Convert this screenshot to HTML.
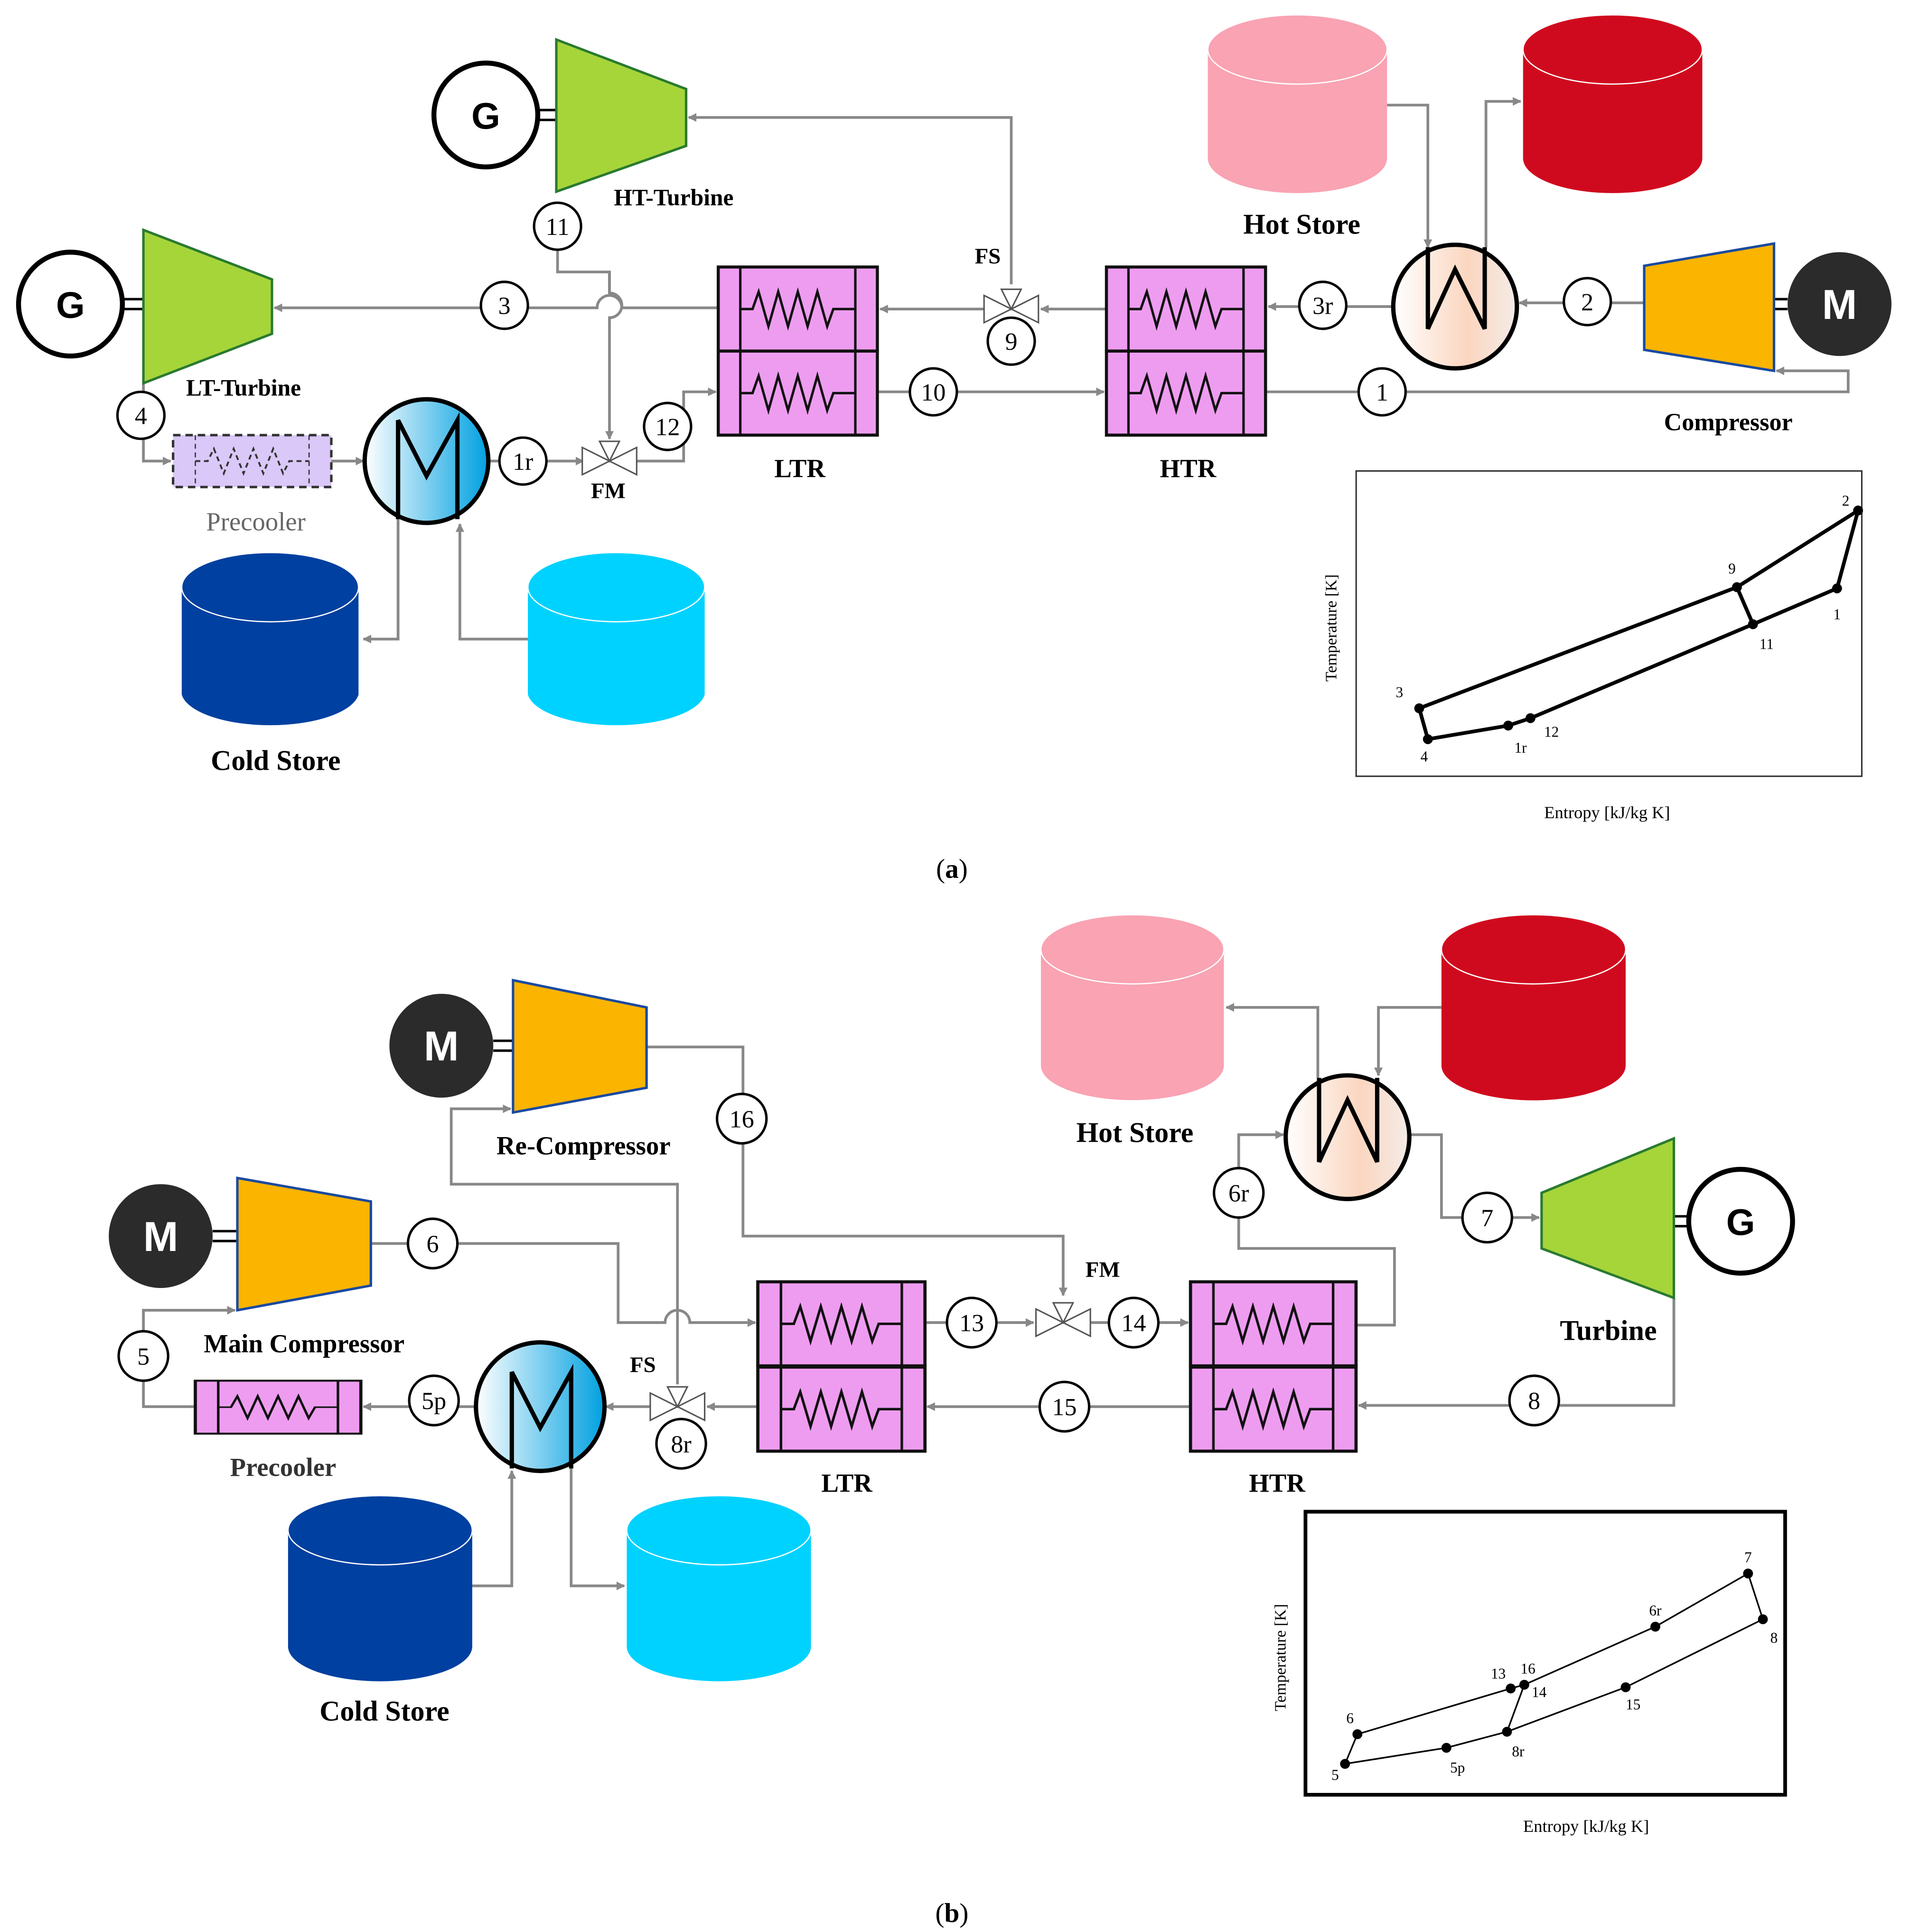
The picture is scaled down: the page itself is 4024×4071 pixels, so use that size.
<!DOCTYPE html>
<html><head><meta charset="utf-8"><style>
html,body{margin:0;padding:0;background:#fff}
svg{display:block}
text{font-family:"Liberation Serif",serif}
.n{font-family:"Liberation Sans",sans-serif;font-size:20px;text-anchor:middle}
.l{font-weight:bold;font-size:21px;text-anchor:middle}
.c{font-size:12px;text-anchor:middle}
</style></head><body>
<svg width="4024" height="4071" viewBox="0 0 1545 1563" xmlns="http://www.w3.org/2000/svg">
<defs>
<marker id="ar" viewBox="0 0 10 10" refX="9" refY="5" markerWidth="7" markerHeight="7" orient="auto-start-reverse" markerUnits="userSpaceOnUse">
<path d="M0,0 L10,5 L0,10 z" fill="#888"/></marker>
<linearGradient id="hg" x1="0" x2="1"><stop offset="0" stop-color="#fff"/><stop offset="0.6" stop-color="#fbd6c0"/><stop offset="1" stop-color="#f4ece8"/></linearGradient>
<linearGradient id="cg" x1="0" x2="1"><stop offset="0" stop-color="#fff"/><stop offset="1" stop-color="#00a0e0"/></linearGradient>
<g id="hx"><rect x="0" y="0" width="130" height="68" fill="#ee9cf0" stroke="#111" stroke-width="2.5"/>
<line x1="18" y1="0" x2="18" y2="68" stroke="#111" stroke-width="2"/><line x1="112" y1="0" x2="112" y2="68" stroke="#111" stroke-width="2"/>
<polyline points="18,34 28,34 33,20 41,48 49,20 57,48 65,20 73,48 81,20 89,48 94,34 112,34" fill="none" stroke="#111" stroke-width="2"/></g>
<g id="valve"><path d="M-22,-11 L22,11 L22,-11 L-22,11 Z" fill="#fff" stroke="#555" stroke-width="1.2"/><path d="M0,0 L-8,-16 L8,-16 Z" fill="#fff" stroke="#555" stroke-width="1.2"/></g>
</defs>
<g fill="none" stroke="#888" stroke-width="2.2">
<polyline points="818,230 818,95 557,95" marker-end="url(#ar)"/>
<polyline points="451,202 451,220 493,220 493,237" />
<path d="M493,220 L493,237 A10,10 0 0 1 493,257 L493,355" marker-end="url(#ar)"/>
<path d="M581,249 L503,249 A10,10 0 0 0 483,249 L427,249 M389,249 L222,249" marker-end="url(#ar)"/>
<line x1="797" y1="250" x2="712" y2="250" marker-end="url(#ar)"/>
<line x1="895" y1="250" x2="842" y2="250" marker-end="url(#ar)"/>
<line x1="1127" y1="248" x2="1026" y2="248" marker-end="url(#ar)"/>
<line x1="1330" y1="245" x2="1229" y2="245" marker-end="url(#ar)"/>
<polyline points="1024,317 1495,317 1495,300 1437,300" marker-end="url(#ar)"/>
<line x1="710" y1="317" x2="893" y2="317" marker-end="url(#ar)"/>
<polyline points="515,373 553,373 553,317 579,317" marker-end="url(#ar)"/>
<line x1="395" y1="373" x2="472" y2="373" marker-end="url(#ar)"/>
<polyline points="116,310 116,373 138,373" marker-end="url(#ar)"/>
<line x1="268" y1="373" x2="294" y2="373" marker-end="url(#ar)"/>
<polyline points="1122,85 1155,85 1155,200" marker-end="url(#ar)"/>
<polyline points="1202,200 1202,82 1230,82" marker-end="url(#ar)"/>
<polyline points="322,420 322,517 294,517" marker-end="url(#ar)"/>
<polyline points="427,517 372,517 372,424" marker-end="url(#ar)"/>
<polyline points="523,847 601,847 601,1000 860,1000 860,1048" marker-end="url(#ar)"/>
<polyline points="548,1120 548,958 365,958 365,897 413,897" marker-end="url(#ar)"/>
<path d="M300,1006 L500,1006 L500,1070 L538,1070 A10,10 0 0 1 558,1070 L611,1070" marker-end="url(#ar)"/>
<line x1="748" y1="1070" x2="836" y2="1070" marker-end="url(#ar)"/>
<line x1="882" y1="1070" x2="961" y2="1070" marker-end="url(#ar)"/>
<polyline points="1097,1072 1128,1072 1128,1010 1002,1010 1002,918 1038,918" marker-end="url(#ar)"/>
<polyline points="1140,918 1166,918 1166,985 1245,985" marker-end="url(#ar)"/>
<polyline points="1354,1050 1354,1137 1099,1137" marker-end="url(#ar)"/>
<line x1="963" y1="1138" x2="750" y2="1138" marker-end="url(#ar)"/>
<line x1="613" y1="1138" x2="572" y2="1138" marker-end="url(#ar)"/>
<line x1="526" y1="1138" x2="490" y2="1138" marker-end="url(#ar)"/>
<line x1="385" y1="1138" x2="294" y2="1138" marker-end="url(#ar)"/>
<polyline points="158,1138 116,1138 116,1060 190,1060" marker-end="url(#ar)"/>
<polyline points="1066,872 1066,815 992,815" marker-end="url(#ar)"/>
<polyline points="1166,815 1115,815 1115,870" marker-end="url(#ar)"/>
<polyline points="382,1283 414,1283 414,1190" marker-end="url(#ar)"/>
<polyline points="462,1188 462,1283 505,1283" marker-end="url(#ar)"/>
</g>

<g stroke="#000" stroke-width="4" fill="#fff"><circle cx="393" cy="93" r="42"/><circle cx="57" cy="246" r="42"/><circle cx="1408" cy="988" r="42"/></g>
<g font-family="Liberation Sans" font-weight="bold" font-size="30" text-anchor="middle">
<text x="393" y="104" style="font-family:'Liberation Sans',sans-serif">G</text><text x="57" y="257" style="font-family:'Liberation Sans',sans-serif">G</text><text x="1408" y="999" style="font-family:'Liberation Sans',sans-serif">G</text></g>
<g stroke="#000" stroke-width="2"><line x1="435" y1="89" x2="450" y2="89"/><line x1="435" y1="97" x2="450" y2="97"/>
<line x1="99" y1="242" x2="116" y2="242"/><line x1="99" y1="250" x2="116" y2="250"/>
<line x1="1354" y1="984" x2="1366" y2="984"/><line x1="1354" y1="992" x2="1366" y2="992"/>
<line x1="1435" y1="242" x2="1446" y2="242"/><line x1="1435" y1="250" x2="1446" y2="250"/>
<line x1="399" y1="842" x2="415" y2="842"/><line x1="399" y1="850" x2="415" y2="850"/>
<line x1="172" y1="996" x2="192" y2="996"/><line x1="172" y1="1004" x2="192" y2="1004"/></g>
<g fill="#a6d53a" stroke="#2a7a30" stroke-width="2">
<polygon points="450,32 555,72 555,118 450,155"/>
<polygon points="116,186 220,226 220,270 116,310"/>
<polygon points="1247,965 1354,921 1354,1050 1247,1010"/></g>
<g fill="#fbb400" stroke="#1a4aa0" stroke-width="2">
<polygon points="1330,215 1435,197 1435,300 1330,283"/>
<polygon points="415,793 523,815 523,880 415,900"/>
<polygon points="192,953 300,972 300,1040 192,1060"/></g>
<g fill="#2b2b2b"><circle cx="1488" cy="246" r="42"/><circle cx="357" cy="846" r="42"/><circle cx="130" cy="1000" r="42"/></g>
<g font-weight="bold" font-size="34" text-anchor="middle" fill="#fff">
<text x="1488" y="258" style="font-family:'Liberation Sans',sans-serif">M</text><text x="357" y="858" style="font-family:'Liberation Sans',sans-serif">M</text><text x="130" y="1012" style="font-family:'Liberation Sans',sans-serif">M</text></g>

<g stroke="#fff" stroke-width="1">
<path d="M977,40 L977,128 A72,28 0 0 0 1122,128 L1122,40 Z" fill="#f9a3b3" stroke="none"/><ellipse cx="1049.5" cy="40" rx="72.5" ry="28" fill="#f9a3b3"/>
<path d="M1232,40 L1232,128 A72,28 0 0 0 1377,128 L1377,40 Z" fill="#d00a1e" stroke="none"/><ellipse cx="1304.5" cy="40" rx="72.5" ry="28" fill="#d00a1e"/>
<path d="M147,475 L147,562 A72,28 0 0 0 290,562 L290,475 Z" fill="#0040a0" stroke="none"/><ellipse cx="218.5" cy="475" rx="71.5" ry="28" fill="#0040a0"/>
<path d="M427,475 L427,562 A72,28 0 0 0 570,562 L570,475 Z" fill="#00d2ff" stroke="none"/><ellipse cx="498.5" cy="475" rx="71.5" ry="28" fill="#00d2ff"/>
<path d="M842,768 L842,862 A74,28 0 0 0 990,862 L990,768 Z" fill="#f9a3b3" stroke="none"/><ellipse cx="916" cy="768" rx="74" ry="28" fill="#f9a3b3"/>
<path d="M1166,768 L1166,862 A74,28 0 0 0 1315,862 L1315,768 Z" fill="#d00a1e" stroke="none"/><ellipse cx="1240.5" cy="768" rx="74.5" ry="28" fill="#d00a1e"/>
<path d="M233,1238 L233,1332 A74,28 0 0 0 382,1332 L382,1238 Z" fill="#0040a0" stroke="none"/><ellipse cx="307.5" cy="1238" rx="74.5" ry="28" fill="#0040a0"/>
<path d="M507,1238 L507,1332 A74,28 0 0 0 656,1332 L656,1238 Z" fill="#00d2ff" stroke="none"/><ellipse cx="581.5" cy="1238" rx="74.5" ry="28" fill="#00d2ff"/>
</g>

<use href="#hx" transform="translate(581,216) scale(0.99,1)"/><use href="#hx" transform="translate(581,284) scale(0.99,1)"/>
<use href="#hx" transform="translate(895,216) scale(0.99,1)"/><use href="#hx" transform="translate(895,284) scale(0.99,1)"/>
<use href="#hx" transform="translate(613,1037) scale(1.04,1)"/><use href="#hx" transform="translate(613,1106) scale(1.04,1)"/>
<use href="#hx" transform="translate(963,1037) scale(1.03,1)"/><use href="#hx" transform="translate(963,1106) scale(1.03,1)"/>

<g stroke="#000" stroke-width="3.5">
<circle cx="1177" cy="248" r="50" fill="url(#hg)"/><path d="M1155,200 L1155,266 L1177,218 L1201,266 L1201,200" fill="none"/>
<circle cx="1090" cy="920" r="50" fill="url(#hg)"/><path d="M1067,872 L1067,940 L1090,890 L1114,940 L1114,872" fill="none"/>
<circle cx="345" cy="373" r="50" fill="url(#cg)"/><path d="M322,420 L322,340 L345,385 L370,340 L370,420" fill="none"/>
<circle cx="437" cy="1138" r="52" fill="url(#cg)"/><path d="M414,1188 L414,1110 L437,1155 L462,1110 L462,1188" fill="none"/>
</g>

<rect x="140" y="352" width="128" height="42" fill="#d9c8f8" stroke="#333" stroke-width="2" stroke-dasharray="6,4"/>
<polyline points="158,373 168,373 173,363 181,383 189,363 197,383 205,363 213,383 221,363 229,383 234,373 250,373" fill="none" stroke="#333" stroke-width="1.5" stroke-dasharray="4,3"/>
<line x1="158" y1="352" x2="158" y2="394" stroke="#333" stroke-dasharray="4,3"/><line x1="250" y1="352" x2="250" y2="394" stroke="#333" stroke-dasharray="4,3"/>
<use href="#hx" transform="translate(158,1117) scale(1.03,0.63)"/>

<use href="#valve" transform="translate(818,250)"/><use href="#valve" transform="translate(493,373)"/>
<use href="#valve" transform="translate(860,1070)"/><use href="#valve" transform="translate(548,1138)"/>

<g fill="#fff" stroke="#000" stroke-width="2">
<circle cx="451" cy="183" r="19"/><circle cx="408" cy="247" r="19"/><circle cx="818" cy="276" r="19"/><circle cx="1070" cy="247" r="19"/>
<circle cx="1284" cy="244" r="19"/><circle cx="1118" cy="317" r="19"/><circle cx="755" cy="317" r="19"/><circle cx="540" cy="345" r="19"/>
<circle cx="423" cy="373" r="19"/><circle cx="114" cy="336" r="19"/>
<circle cx="600" cy="905" r="20"/><circle cx="350" cy="1006" r="20"/><circle cx="1002" cy="965" r="20"/><circle cx="1203" cy="985" r="20"/>
<circle cx="786" cy="1070" r="20"/><circle cx="917" cy="1070" r="20"/><circle cx="861" cy="1138" r="20"/><circle cx="1241" cy="1133" r="20"/>
<circle cx="116" cy="1097" r="20"/><circle cx="351" cy="1133" r="20"/><circle cx="551" cy="1168" r="20"/></g>
<g class="n">
<text x="451" y="190">11</text><text x="408" y="254">3</text><text x="818" y="283">9</text><text x="1070" y="254">3r</text>
<text x="1284" y="251">2</text><text x="1118" y="324">1</text><text x="755" y="324">10</text><text x="540" y="352">12</text>
<text x="423" y="380">1r</text><text x="114" y="343">4</text>
<text x="600" y="912">16</text><text x="350" y="1013">6</text><text x="1002" y="972">6r</text><text x="1203" y="992">7</text>
<text x="786" y="1077">13</text><text x="917" y="1077">14</text><text x="861" y="1145">15</text><text x="1241" y="1140">8</text>
<text x="116" y="1104">5</text><text x="351" y="1140">5p</text><text x="551" y="1175">8r</text></g>

<g class="l">
<text x="545" y="166" font-size="19">HT-Turbine</text><text x="197" y="320" font-size="19">LT-Turbine</text>
<text x="1053" y="189" font-size="23">Hot Store</text><text x="1398" y="348" font-size="20">Compressor</text>
<text x="799" y="213" font-size="18">FS</text><text x="492" y="403" font-size="18">FM</text>
<text x="647" y="386" font-size="21">LTR</text><text x="961" y="386" font-size="21">HTR</text>
<text x="223" y="623" font-size="23">Cold Store</text>
<text x="472" y="934" font-size="21">Re-Compressor</text><text x="246" y="1094" font-size="21">Main Compressor</text>
<text x="918" y="924" font-size="23">Hot Store</text><text x="1301" y="1084" font-size="23">Turbine</text>
<text x="892" y="1033" font-size="18">FM</text><text x="520" y="1110" font-size="18">FS</text>
<text x="685" y="1207" font-size="21">LTR</text><text x="1033" y="1207" font-size="21">HTR</text>
<text x="311" y="1392" font-size="23">Cold Store</text></g>
<text x="207" y="429" font-size="21" text-anchor="middle" fill="#666">Precooler</text>
<text x="229" y="1194" font-size="21" text-anchor="middle" font-weight="bold" fill="#333">Precooler</text>
<text x="770" y="710" font-size="22" text-anchor="middle">(<tspan font-weight="bold">a</tspan>)</text>
<text x="770" y="1555" font-size="22" text-anchor="middle">(<tspan font-weight="bold">b</tspan>)</text>

<rect x="1097" y="381" width="409" height="247" fill="none" stroke="#333" stroke-width="1.2"/>
<text transform="translate(1081,508) rotate(-90)" font-size="13" text-anchor="middle">Temperature [K]</text>
<text x="1300" y="662" font-size="14" text-anchor="middle">Entropy [kJ/kg K]</text>
<g stroke="#000" stroke-width="3" fill="none"><polyline points="1405,475 1503,413 1486,476 1418,505 1238,581 1220,587 1155,598 1148,573 1405,475 1418,505"/></g>
<g fill="#000"><circle cx="1503" cy="413" r="4"/><circle cx="1405" cy="475" r="4"/><circle cx="1418" cy="505" r="4"/><circle cx="1486" cy="476" r="4"/><circle cx="1148" cy="573" r="4"/><circle cx="1155" cy="598" r="4"/><circle cx="1220" cy="587" r="4"/><circle cx="1238" cy="581" r="4"/></g>
<g class="c"><text x="1493" y="409">2</text><text x="1401" y="464">9</text><text x="1429" y="525">11</text><text x="1486" y="501">1</text><text x="1132" y="564">3</text><text x="1152" y="616">4</text><text x="1230" y="609">1r</text><text x="1255" y="596">12</text></g>

<rect x="1056" y="1223" width="388" height="229" fill="none" stroke="#000" stroke-width="3"/>
<text transform="translate(1040,1341) rotate(-90)" font-size="13" text-anchor="middle">Temperature [K]</text>
<text x="1283" y="1482" font-size="14" text-anchor="middle">Entropy [kJ/kg K]</text>
<g stroke="#000" stroke-width="1.3" fill="none"><polyline points="1088,1427 1098,1403 1222,1366 1233,1363 1339,1316 1414,1273 1426,1310 1315,1365 1219,1401 1170,1414 1088,1427"/><line x1="1233" y1="1363" x2="1219" y2="1401"/></g>
<g fill="#000"><circle cx="1414" cy="1273" r="4"/><circle cx="1426" cy="1310" r="4"/><circle cx="1339" cy="1316" r="4"/><circle cx="1233" cy="1363" r="4"/><circle cx="1222" cy="1366" r="4"/><circle cx="1315" cy="1365" r="4"/><circle cx="1219" cy="1401" r="4"/><circle cx="1170" cy="1414" r="4"/><circle cx="1088" cy="1427" r="4"/><circle cx="1098" cy="1403" r="4"/></g>
<g class="c"><text x="1414" y="1264">7</text><text x="1435" y="1329">8</text><text x="1339" y="1307">6r</text><text x="1236" y="1354">16</text><text x="1212" y="1358">13</text><text x="1245" y="1373">14</text><text x="1321" y="1383">15</text><text x="1228" y="1421">8r</text><text x="1179" y="1434">5p</text><text x="1080" y="1440">5</text><text x="1092" y="1394">6</text></g>
</svg>
</body></html>
